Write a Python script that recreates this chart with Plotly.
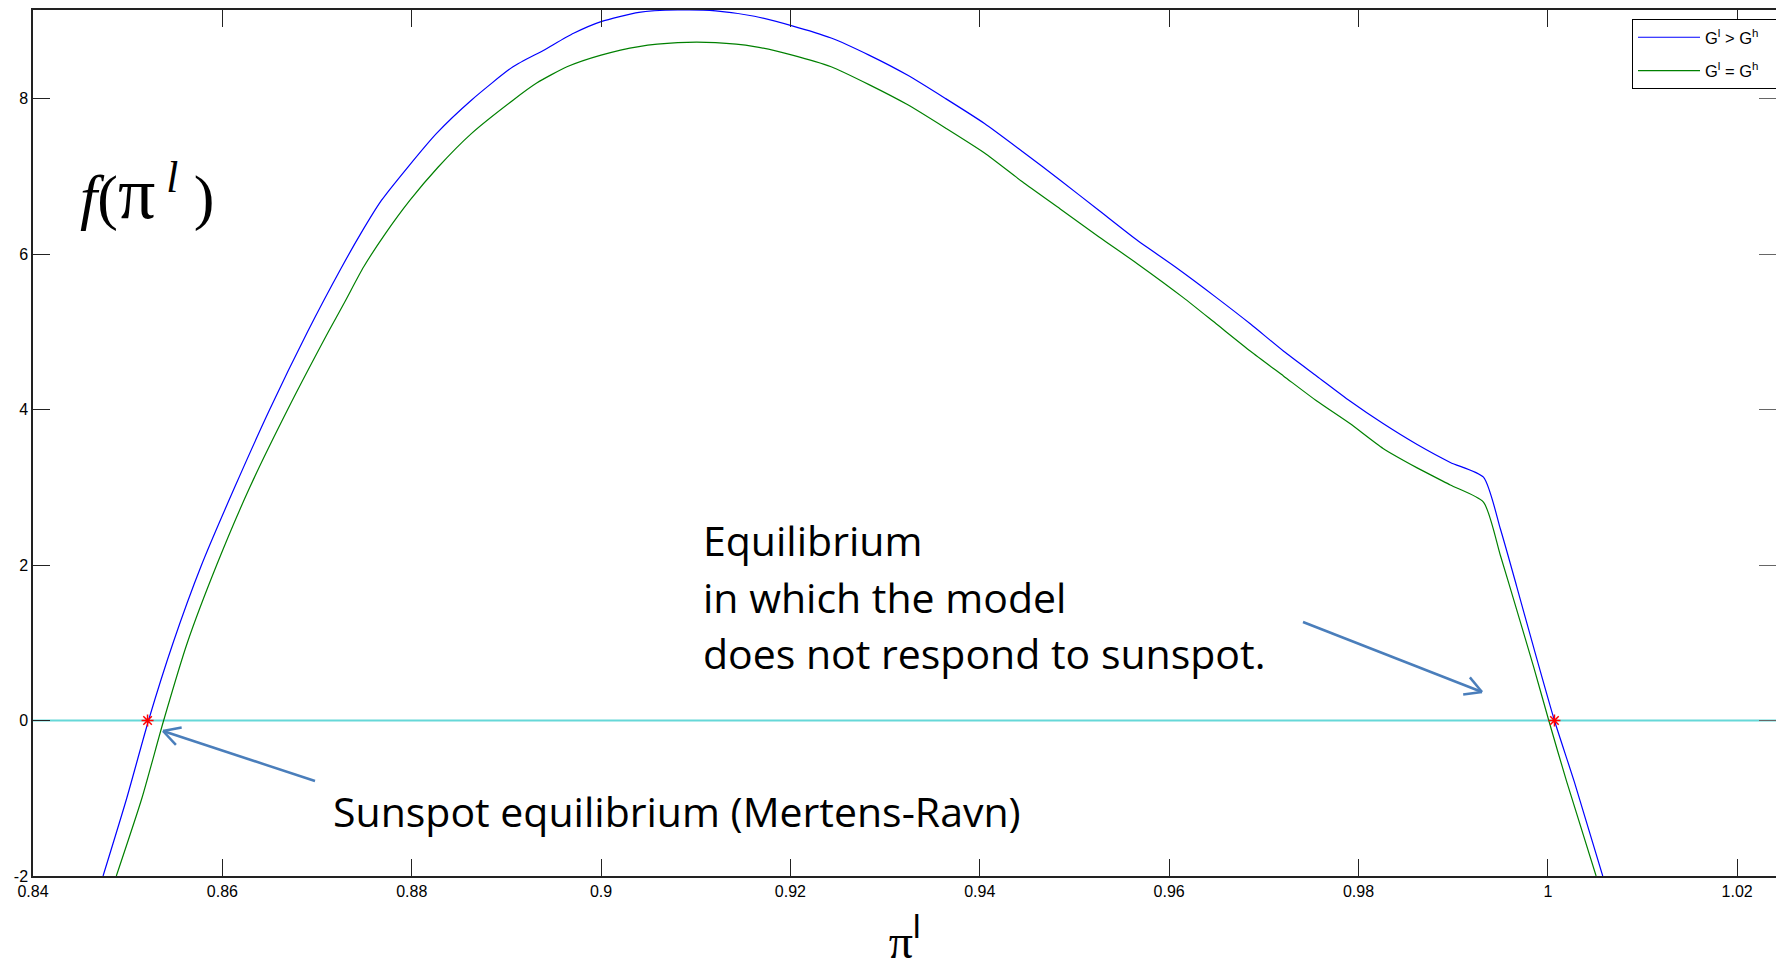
import math
import plotly.graph_objects as go

# ---------------- data ----------------
blue_x = [0.8474, 0.8499, 0.8522, 0.8548, 0.8578, 0.8613, 0.8650, 0.8690, 0.8726, 0.8746,
          0.8768, 0.8796, 0.8826, 0.8863, 0.8907, 0.8939, 0.8971, 0.9000, 0.9040, 0.9081,
          0.9121, 0.9162, 0.9201, 0.9243, 0.9283, 0.9324, 0.9364, 0.9405, 0.9445, 0.9485,
          0.9526, 0.9566, 0.9607, 0.9650, 0.9686, 0.9721, 0.9756, 0.9791, 0.9826, 0.9862,
          0.9897, 0.9932, 0.9950, 0.9967, 0.9985, 1.0007, 1.0028, 1.0058]
blue_y = [-2.0, -1.0, 0.0, 1.0, 2.0, 3.0, 4.0, 5.0, 5.83, 6.26,
          6.69, 7.12, 7.55, 7.98, 8.41, 8.62, 8.84, 8.99, 9.11, 9.14,
          9.13, 9.06, 8.94, 8.78, 8.56, 8.30, 8.00, 7.68, 7.32, 6.95,
          6.56, 6.18, 5.83, 5.44, 5.10, 4.75, 4.43, 4.11, 3.82, 3.55,
          3.32, 3.13, 2.46, 1.73, 0.94, 0.0, -0.79, -2.0]

green_x = [0.8488, 0.8515, 0.8538, 0.8563, 0.8594, 0.8629, 0.8669, 0.8712, 0.8730, 0.8749,
           0.8772, 0.8798, 0.8828, 0.8863, 0.8907, 0.8932, 0.8964, 0.9000, 0.9040, 0.9081,
           0.9121, 0.9162, 0.9202, 0.9243, 0.9283, 0.9324, 0.9364, 0.9405, 0.9445, 0.9485,
           0.9526, 0.9566, 0.9615, 0.9650, 0.9686, 0.9721, 0.9756, 0.9791, 0.9826, 0.9862,
           0.9897, 0.9932, 0.9950, 0.9967, 0.9985, 1.0001, 1.0020, 1.0051]
green_y = [-2.0, -1.0, 0.0, 1.0, 2.0, 3.0, 4.0, 5.0, 5.40, 5.83,
           6.26, 6.69, 7.12, 7.55, 7.98, 8.20, 8.41, 8.56, 8.67, 8.72,
           8.72, 8.67, 8.56, 8.41, 8.18, 7.92, 7.62, 7.30, 6.93, 6.58,
           6.22, 5.88, 5.44, 5.10, 4.75, 4.43, 4.11, 3.82, 3.50, 3.25,
           3.03, 2.81, 2.12, 1.43, 0.69, 0.0, -0.79, -2.0]

zero_x = [0.84, 1.025]
zero_y = [0.0, 0.0]

eq_x = [0.8521, 1.0007]
eq_y = [0.0, 0.0]

x_ticks = [0.84, 0.86, 0.88, 0.90, 0.92, 0.94, 0.96, 0.98, 1.00, 1.02]
x_ticktext = ["0.84", "0.86", "0.88", "0.9", "0.92", "0.94", "0.96", "0.98", "1", "1.02"]
y_ticks = [-2, 0, 2, 4, 6, 8]
y_ticktext = ["-2", "0", "2", "4", "6", "8"]

NB = "\u00a0" * 12
legend_names = ["G<sup>l</sup> > G<sup>h</sup>" + NB, "G<sup>l</sup> = G<sup>h</sup>" + NB]

# ---------------- layout geometry ----------------
W, H = 1776, 968
ML, MR, MT, MB = 33, 0, 10, 92
PW, PH = W - ML - MR, H - MT - MB
X_RANGE = [0.84, 1.0241]
Y_RANGE = [-2.0, 9.14]


def px(X):
    return (X - ML) / PW


def py(Y):
    return (H - MB - Y) / PH


AX_FONT = dict(family="Liberation Sans, Arial, sans-serif", size=16, color="#000")
ARROW_COLOR = "#4a7ebb"

fig = go.Figure()

fig.add_trace(go.Scatter(x=zero_x, y=zero_y, mode="lines",
                         line=dict(color="#66d8d8", width=2), showlegend=False,
                         hoverinfo="skip"))
fig.add_trace(go.Scatter(x=blue_x, y=blue_y, mode="lines", name=legend_names[0],
                         legendgroup="a",
                         line=dict(color="#0000ff", width=1.2, shape="spline",
                                   smoothing=0.6)))
fig.add_trace(go.Scatter(x=green_x, y=green_y, mode="lines", name=legend_names[1],
                         legendgroup="b",
                         line=dict(color="#008000", width=1.2, shape="spline",
                                   smoothing=0.6)))
fig.add_trace(go.Scatter(x=eq_x, y=eq_y, mode="markers", showlegend=False,
                         marker=dict(symbol="asterisk", size=10, color="#ff0000",
                                     line=dict(color="#ff0000", width=1.5))))
# invisible trace carrying the right-hand tick axis
fig.add_trace(go.Scatter(x=[None], y=[None], yaxis="y2", showlegend=False,
                         hoverinfo="skip"))

# ---------------- annotations ----------------
annotations = []
text_font = dict(family="'Open Sans', Lato, sans-serif", size=41, color="#000")
for txt, Y in [("Equilibrium", 540), ("in which the model", 597),
               ("does not respond to sunspot.", 653)]:
    annotations.append(dict(text=txt, xref="paper", yref="paper", x=px(701), y=py(Y),
                            xanchor="left", yanchor="middle", showarrow=False,
                            font=text_font))
annotations.append(dict(text="Sunspot equilibrium (Mertens-Ravn)", xref="paper",
                        yref="paper", x=px(331), y=py(811), xanchor="left",
                        yanchor="middle", showarrow=False, font=text_font))
annotations.append(dict(
    text="<i>f</i>(<span style='font-size:74px'>π</span><sup> <i>l</i></sup> )",
    xref="paper", yref="paper", x=px(78), y=py(193), xanchor="left", yanchor="middle",
    showarrow=False,
    font=dict(family="Liberation Serif, 'Times New Roman', serif", size=62, color="#000")))

# ---------------- arrows (open V heads) ----------------
shapes = []
arrows = [((1303, 622), (1482, 692)), ((315, 781), (163, 731))]
for (tx, ty), (hx, hy) in arrows:
    shapes.append(dict(type="line", xref="paper", yref="paper",
                       x0=px(tx), y0=py(ty), x1=px(hx), y1=py(hy),
                       line=dict(color=ARROW_COLOR, width=2.5)))
    ang = math.atan2(ty - hy, tx - hx)
    for s in (-1, 1):
        a = ang + s * math.radians(29)
        wx, wy = hx + 19 * math.cos(a), hy + 19 * math.sin(a)
        shapes.append(dict(type="line", xref="paper", yref="paper",
                           x0=px(hx), y0=py(hy), x1=px(wx), y1=py(wy),
                           line=dict(color=ARROW_COLOR, width=2.5)))

fig.update_layout(
    width=W, height=H,
    margin=dict(l=ML, r=MR, t=MT, b=MB, pad=0, autoexpand=False),
    paper_bgcolor="white", plot_bgcolor="white",
    showlegend=True,
    legend=dict(x=px(1632), y=1 - (19 - MT) / PH, xanchor="left", yanchor="top",
                bordercolor="#000", borderwidth=1, bgcolor="white",
                font=dict(family="Liberation Sans, Arial, sans-serif", size=16.5,
                          color="#000"),
                tracegroupgap=9, itemwidth=62),
    xaxis=dict(range=X_RANGE, tickvals=x_ticks, ticktext=x_ticktext,
               ticks="inside", ticklen=17, tickwidth=1, tickcolor="#222",
               showline=True, linecolor="#222", linewidth=1.5, mirror="ticks",
               showgrid=False, zeroline=False, tickfont=AX_FONT,
               title=dict(text="π<sup><span style='font-family:Liberation Sans'>l</span></sup>",
                          font=dict(family="Liberation Serif, 'Times New Roman', serif",
                                    size=48, color="#000"),
                          standoff=47)),
    yaxis=dict(range=Y_RANGE, tickvals=y_ticks, ticktext=y_ticktext,
               ticks="inside", ticklen=17, tickwidth=1, tickcolor="#222",
               showline=True, linecolor="#222", linewidth=1.5, mirror=False,
               showgrid=False, zeroline=False, tickfont=AX_FONT),
    yaxis2=dict(range=Y_RANGE, overlaying="y", side="right", tickvals=y_ticks,
                ticks="inside", ticklen=17, tickwidth=1, tickcolor="#666",
                showticklabels=False, showline=False, showgrid=False, zeroline=False),
    annotations=annotations,
    shapes=shapes,
)

fig.write_html("out.html")
